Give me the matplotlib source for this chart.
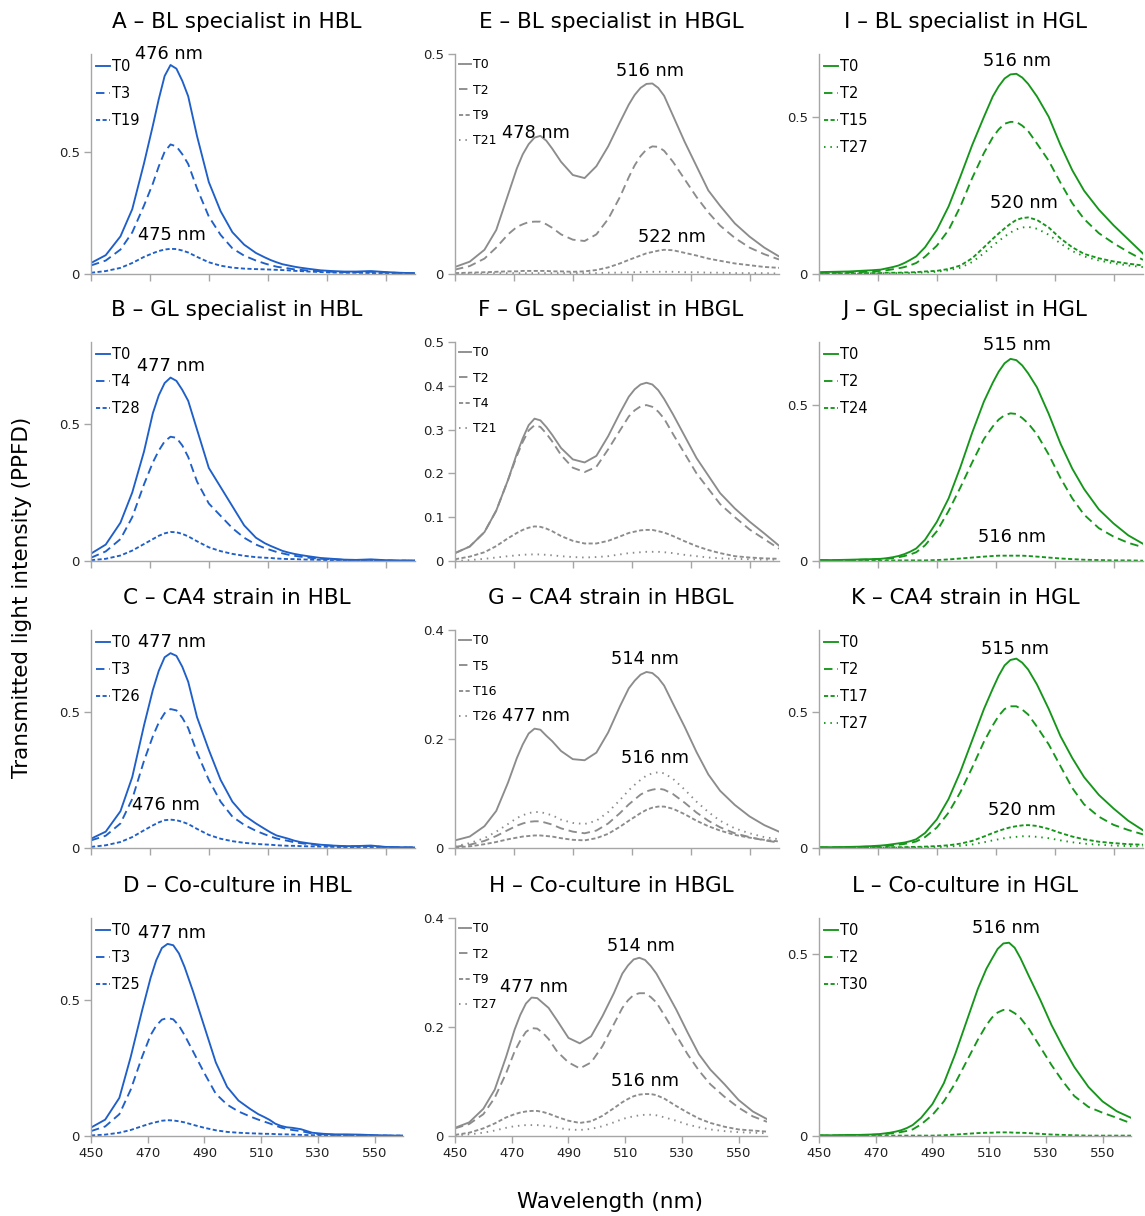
import matplotlib
matplotlib.use("Agg")
import matplotlib.pyplot as plt

# wavelength grid (nm), denser around the peaks
WL = [450, 455, 460, 464, 468, 471, 473, 475, 477, 479, 481, 483, 486, 490, 494, 498, 502,
      506, 509, 511, 513, 515, 517, 519, 521, 524, 528, 532, 536, 540, 545, 550, 555, 560]

# A - BL specialist in HBL
A_T0 = [0.045, 0.077, 0.154, 0.265, 0.453, 0.607, 0.715, 0.810, 0.855, 0.840, 0.790, 0.727, 0.564, 0.376, 0.257, 0.171, 0.120,
        0.086, 0.068, 0.057, 0.048, 0.040, 0.035, 0.030, 0.026, 0.021, 0.015, 0.012, 0.010, 0.010, 0.012, 0.008, 0.005, 0.003]
A_T3 = [0.035, 0.055, 0.100, 0.170, 0.280, 0.370, 0.440, 0.500, 0.530, 0.522, 0.490, 0.450, 0.350, 0.235, 0.160, 0.105, 0.075,
        0.055, 0.043, 0.036, 0.030, 0.026, 0.023, 0.019, 0.017, 0.014, 0.011, 0.009, 0.008, 0.008, 0.009, 0.006, 0.004, 0.003]
A_T19 = [0.005, 0.012, 0.025, 0.045, 0.070, 0.085, 0.094, 0.100, 0.103, 0.102, 0.096, 0.088, 0.070, 0.048, 0.034, 0.026, 0.022,
         0.020, 0.019, 0.018, 0.017, 0.016, 0.015, 0.013, 0.012, 0.010, 0.008, 0.006, 0.005, 0.005, 0.004, 0.003, 0.002, 0.001]

# B - GL specialist in HBL
B_T0 = [0.027, 0.060, 0.140, 0.250, 0.400, 0.540, 0.605, 0.650, 0.670, 0.658, 0.625, 0.585, 0.480, 0.340, 0.270, 0.200, 0.130,
        0.085, 0.065, 0.055, 0.046, 0.037, 0.031, 0.026, 0.022, 0.017, 0.011, 0.008, 0.005, 0.004, 0.006, 0.003, 0.002, 0.002]
B_T4 = [0.012, 0.035, 0.080, 0.160, 0.280, 0.360, 0.403, 0.437, 0.454, 0.450, 0.422, 0.380, 0.290, 0.210, 0.165, 0.120, 0.085,
        0.060, 0.047, 0.040, 0.033, 0.028, 0.023, 0.019, 0.016, 0.012, 0.008, 0.006, 0.004, 0.003, 0.004, 0.002, 0.001, 0.001]
B_T28 = [0.003, 0.008, 0.020, 0.038, 0.062, 0.080, 0.092, 0.101, 0.106, 0.105, 0.099, 0.090, 0.072, 0.050, 0.036, 0.026, 0.019,
         0.014, 0.012, 0.011, 0.009, 0.008, 0.007, 0.007, 0.006, 0.005, 0.004, 0.003, 0.002, 0.002, 0.002, 0.001, 0.001, 0.001]

# C - CA4 strain in HBL
C_T0 = [0.034, 0.060, 0.135, 0.260, 0.450, 0.580, 0.650, 0.700, 0.715, 0.705, 0.665, 0.610, 0.480, 0.360, 0.250, 0.170, 0.120,
        0.090, 0.070, 0.057, 0.046, 0.040, 0.034, 0.027, 0.022, 0.017, 0.012, 0.009, 0.007, 0.007, 0.009, 0.004, 0.003, 0.002]
C_T3 = [0.028, 0.045, 0.090, 0.180, 0.320, 0.410, 0.460, 0.495, 0.510, 0.505, 0.478, 0.440, 0.350, 0.250, 0.170, 0.115, 0.085,
        0.063, 0.050, 0.042, 0.035, 0.030, 0.026, 0.021, 0.018, 0.014, 0.010, 0.008, 0.006, 0.006, 0.007, 0.003, 0.002, 0.002]
C_T26 = [0.004, 0.010, 0.022, 0.040, 0.065, 0.083, 0.094, 0.102, 0.104, 0.102, 0.096, 0.088, 0.070, 0.048, 0.034, 0.025, 0.019,
         0.015, 0.013, 0.012, 0.010, 0.009, 0.008, 0.008, 0.007, 0.006, 0.005, 0.004, 0.003, 0.003, 0.003, 0.002, 0.001, 0.001]

# D - Co-culture in HBL
D_T0 = [0.031, 0.060, 0.140, 0.290, 0.460, 0.580, 0.645, 0.690, 0.705, 0.700, 0.670, 0.620, 0.530, 0.400, 0.270, 0.180, 0.130,
        0.100, 0.080, 0.070, 0.059, 0.045, 0.037, 0.032, 0.030, 0.025, 0.012, 0.008, 0.006, 0.006, 0.005, 0.003, 0.002, 0.001]
D_T3 = [0.018, 0.035, 0.080, 0.170, 0.290, 0.370, 0.405, 0.427, 0.433, 0.428, 0.405, 0.370, 0.310, 0.230, 0.155, 0.115, 0.090,
        0.072, 0.060, 0.053, 0.046, 0.038, 0.031, 0.026, 0.022, 0.018, 0.009, 0.006, 0.004, 0.004, 0.003, 0.002, 0.001, 0.001]
D_T25 = [0.002, 0.005, 0.012, 0.022, 0.036, 0.046, 0.051, 0.056, 0.058, 0.057, 0.054, 0.050, 0.041, 0.030, 0.021, 0.015, 0.012,
         0.010, 0.009, 0.008, 0.008, 0.007, 0.006, 0.006, 0.005, 0.004, 0.003, 0.003, 0.002, 0.002, 0.002, 0.001, 0.001, 0.001]

# E - BL specialist in HBGL
E_T0 = [0.016, 0.028, 0.055, 0.100, 0.180, 0.240, 0.272, 0.295, 0.310, 0.314, 0.303, 0.285, 0.255, 0.225, 0.218, 0.245, 0.290,
        0.345, 0.385, 0.407, 0.423, 0.432, 0.433, 0.423, 0.405, 0.360, 0.300, 0.245, 0.190, 0.155, 0.115, 0.085, 0.060, 0.040]
E_T2 = [0.010, 0.018, 0.035, 0.060, 0.090, 0.107, 0.113, 0.118, 0.119, 0.119, 0.113, 0.105, 0.090, 0.078, 0.075, 0.090, 0.125,
        0.175, 0.220, 0.247, 0.268, 0.283, 0.290, 0.289, 0.280, 0.255, 0.215, 0.175, 0.140, 0.110, 0.082, 0.060, 0.045, 0.033]
E_T9 = [0.002, 0.003, 0.004, 0.005, 0.006, 0.006, 0.007, 0.007, 0.007, 0.007, 0.007, 0.006, 0.006, 0.005, 0.006, 0.009, 0.015,
        0.024, 0.032, 0.037, 0.042, 0.047, 0.050, 0.053, 0.055, 0.054, 0.048, 0.042, 0.035, 0.030, 0.024, 0.020, 0.016, 0.014]
E_T21 = [0.001, 0.001, 0.001, 0.002, 0.002, 0.002, 0.002, 0.002, 0.002, 0.002, 0.002, 0.002, 0.002, 0.002, 0.002, 0.002, 0.003,
         0.003, 0.004, 0.004, 0.004, 0.005, 0.005, 0.005, 0.005, 0.005, 0.004, 0.004, 0.003, 0.003, 0.002, 0.002, 0.002, 0.001]

# F - GL specialist in HBGL
F_T0 = [0.018, 0.033, 0.066, 0.115, 0.185, 0.245, 0.280, 0.310, 0.325, 0.321, 0.306, 0.288, 0.258, 0.232, 0.225, 0.240, 0.285,
        0.338, 0.375, 0.392, 0.403, 0.407, 0.403, 0.390, 0.370, 0.335, 0.285, 0.235, 0.195, 0.155, 0.120, 0.090, 0.063, 0.035]
F_T2 = [0.018, 0.033, 0.066, 0.115, 0.185, 0.240, 0.272, 0.298, 0.310, 0.306, 0.291, 0.273, 0.242, 0.213, 0.203, 0.215, 0.255,
        0.298, 0.330, 0.344, 0.353, 0.356, 0.352, 0.341, 0.325, 0.290, 0.245, 0.200, 0.165, 0.130, 0.100, 0.072, 0.050, 0.028]
F_T4 = [0.004, 0.010, 0.020, 0.034, 0.052, 0.064, 0.071, 0.076, 0.079, 0.078, 0.074, 0.068, 0.057, 0.046, 0.040, 0.040, 0.046,
        0.056, 0.064, 0.067, 0.070, 0.071, 0.071, 0.068, 0.065, 0.057, 0.045, 0.034, 0.025, 0.018, 0.011, 0.008, 0.006, 0.005]
F_T21 = [0.000, 0.002, 0.005, 0.008, 0.011, 0.013, 0.014, 0.015, 0.015, 0.015, 0.014, 0.013, 0.011, 0.009, 0.008, 0.009, 0.011,
         0.015, 0.018, 0.019, 0.020, 0.021, 0.021, 0.021, 0.020, 0.018, 0.014, 0.011, 0.008, 0.006, 0.005, 0.004, 0.003, 0.003]

# G - CA4 strain in HBGL
G_T0 = [0.014, 0.021, 0.040, 0.068, 0.120, 0.165, 0.190, 0.210, 0.219, 0.217, 0.206, 0.196, 0.178, 0.163, 0.161, 0.175, 0.212,
        0.260, 0.293, 0.307, 0.318, 0.323, 0.321, 0.312, 0.298, 0.265, 0.222, 0.176, 0.135, 0.105, 0.079, 0.058, 0.042, 0.030]
G_T5 = [0.002, 0.006, 0.013, 0.022, 0.033, 0.041, 0.045, 0.048, 0.049, 0.049, 0.046, 0.043, 0.036, 0.030, 0.027, 0.032, 0.045,
        0.064, 0.080, 0.089, 0.098, 0.104, 0.107, 0.109, 0.107, 0.099, 0.083, 0.065, 0.050, 0.038, 0.027, 0.020, 0.014, 0.010]
G_T16 = [0.001, 0.003, 0.007, 0.011, 0.016, 0.019, 0.021, 0.022, 0.023, 0.023, 0.022, 0.021, 0.018, 0.015, 0.014, 0.018, 0.026,
         0.039, 0.050, 0.057, 0.064, 0.070, 0.074, 0.076, 0.076, 0.072, 0.062, 0.050, 0.040, 0.032, 0.024, 0.019, 0.015, 0.012]
G_T26 = [0.003, 0.009, 0.018, 0.030, 0.044, 0.055, 0.060, 0.064, 0.066, 0.066, 0.063, 0.060, 0.052, 0.046, 0.044, 0.050, 0.066,
         0.088, 0.106, 0.116, 0.125, 0.133, 0.137, 0.139, 0.137, 0.127, 0.107, 0.085, 0.066, 0.050, 0.036, 0.027, 0.020, 0.016]

# H - Co-culture in HBGL
H_T0 = [0.015, 0.025, 0.050, 0.085, 0.145, 0.195, 0.222, 0.243, 0.254, 0.253, 0.244, 0.235, 0.212, 0.180, 0.170, 0.183, 0.220,
        0.262, 0.298, 0.313, 0.324, 0.327, 0.323, 0.312, 0.298, 0.270, 0.232, 0.190, 0.150, 0.122, 0.095, 0.066, 0.045, 0.031]
H_T2 = [0.014, 0.022, 0.040, 0.070, 0.115, 0.155, 0.175, 0.191, 0.198, 0.197, 0.189, 0.178, 0.155, 0.135, 0.124, 0.135, 0.165,
        0.205, 0.235, 0.249, 0.259, 0.262, 0.262, 0.255, 0.245, 0.220, 0.185, 0.150, 0.120, 0.095, 0.072, 0.052, 0.036, 0.026]
H_T9 = [0.002, 0.006, 0.014, 0.023, 0.034, 0.040, 0.043, 0.045, 0.046, 0.046, 0.044, 0.041, 0.035, 0.028, 0.024, 0.027, 0.037,
        0.051, 0.062, 0.068, 0.073, 0.076, 0.077, 0.077, 0.075, 0.068, 0.055, 0.043, 0.032, 0.024, 0.017, 0.012, 0.010, 0.008]
H_T27 = [0.001, 0.003, 0.006, 0.010, 0.015, 0.018, 0.019, 0.020, 0.020, 0.020, 0.019, 0.018, 0.015, 0.012, 0.011, 0.013, 0.018,
         0.025, 0.031, 0.034, 0.036, 0.038, 0.039, 0.039, 0.038, 0.034, 0.028, 0.021, 0.016, 0.012, 0.009, 0.007, 0.006, 0.005]

# I - BL specialist in HGL
I_T0 = [0.006, 0.007, 0.008, 0.010, 0.012, 0.014, 0.018, 0.022, 0.027, 0.035, 0.045, 0.056, 0.085, 0.140, 0.215, 0.310, 0.410,
        0.500, 0.565, 0.597, 0.622, 0.635, 0.637, 0.625, 0.605, 0.565, 0.500, 0.410, 0.330, 0.265, 0.205, 0.155, 0.110, 0.065]
I_T2 = [0.003, 0.004, 0.005, 0.006, 0.008, 0.010, 0.012, 0.015, 0.018, 0.022, 0.028, 0.035, 0.055, 0.090, 0.140, 0.215, 0.305,
        0.385, 0.435, 0.460, 0.478, 0.484, 0.484, 0.472, 0.455, 0.415, 0.360, 0.290, 0.225, 0.175, 0.130, 0.098, 0.070, 0.045]
I_T15 = [0.002, 0.002, 0.002, 0.002, 0.003, 0.003, 0.004, 0.004, 0.004, 0.005, 0.005, 0.006, 0.008, 0.010, 0.016, 0.027, 0.050,
         0.085, 0.112, 0.129, 0.145, 0.160, 0.172, 0.178, 0.180, 0.172, 0.148, 0.113, 0.085, 0.064, 0.050, 0.040, 0.033, 0.027]
I_T27 = [0.001, 0.001, 0.001, 0.001, 0.002, 0.002, 0.002, 0.002, 0.003, 0.003, 0.003, 0.004, 0.005, 0.007, 0.012, 0.020, 0.038,
         0.066, 0.090, 0.105, 0.119, 0.132, 0.142, 0.148, 0.150, 0.144, 0.125, 0.097, 0.073, 0.056, 0.043, 0.034, 0.027, 0.022]

# J - GL specialist in HGL
J_T0 = [0.003, 0.003, 0.004, 0.005, 0.006, 0.007, 0.009, 0.012, 0.016, 0.022, 0.030, 0.040, 0.068, 0.125, 0.200, 0.300, 0.410,
        0.510, 0.570, 0.605, 0.632, 0.646, 0.642, 0.625, 0.600, 0.555, 0.470, 0.375, 0.295, 0.230, 0.165, 0.120, 0.082, 0.055]
J_T2 = [0.002, 0.002, 0.003, 0.004, 0.005, 0.006, 0.007, 0.009, 0.012, 0.016, 0.021, 0.028, 0.050, 0.095, 0.160, 0.235, 0.315,
        0.390, 0.430, 0.452, 0.466, 0.472, 0.470, 0.457, 0.440, 0.405, 0.340, 0.265, 0.200, 0.148, 0.105, 0.078, 0.058, 0.044]
J_T24 = [0.001, 0.001, 0.001, 0.001, 0.001, 0.001, 0.001, 0.002, 0.002, 0.002, 0.002, 0.002, 0.002, 0.003, 0.005, 0.008, 0.011,
         0.014, 0.016, 0.017, 0.017, 0.017, 0.017, 0.017, 0.016, 0.014, 0.011, 0.008, 0.006, 0.004, 0.003, 0.002, 0.002, 0.001]

# K - CA4 strain in HGL
K_T0 = [0.003, 0.003, 0.004, 0.005, 0.007, 0.009, 0.011, 0.014, 0.017, 0.020, 0.025, 0.032, 0.055, 0.105, 0.180, 0.280, 0.395,
        0.510, 0.585, 0.632, 0.670, 0.690, 0.695, 0.680, 0.655, 0.600, 0.510, 0.410, 0.330, 0.260, 0.195, 0.145, 0.100, 0.065]
K_T2 = [0.002, 0.002, 0.003, 0.004, 0.005, 0.006, 0.007, 0.010, 0.012, 0.015, 0.019, 0.024, 0.040, 0.075, 0.130, 0.205, 0.295,
        0.390, 0.450, 0.485, 0.510, 0.520, 0.520, 0.508, 0.490, 0.445, 0.380, 0.300, 0.220, 0.160, 0.115, 0.085, 0.066, 0.050]
K_T17 = [0.001, 0.001, 0.001, 0.001, 0.002, 0.002, 0.002, 0.003, 0.003, 0.003, 0.004, 0.004, 0.005, 0.007, 0.010, 0.016, 0.026,
         0.042, 0.055, 0.063, 0.070, 0.076, 0.080, 0.083, 0.084, 0.081, 0.070, 0.055, 0.042, 0.032, 0.023, 0.018, 0.014, 0.012]
K_T27 = [0.000, 0.000, 0.000, 0.000, 0.001, 0.001, 0.001, 0.001, 0.001, 0.001, 0.002, 0.002, 0.002, 0.003, 0.005, 0.008, 0.013,
         0.021, 0.028, 0.032, 0.036, 0.039, 0.041, 0.043, 0.043, 0.041, 0.036, 0.028, 0.021, 0.016, 0.012, 0.009, 0.007, 0.006]

# L - Co-culture in HGL
L_T0 = [0.002, 0.002, 0.003, 0.003, 0.004, 0.005, 0.007, 0.009, 0.012, 0.016, 0.022, 0.030, 0.050, 0.088, 0.145, 0.225, 0.315,
        0.405, 0.460, 0.488, 0.515, 0.530, 0.532, 0.518, 0.490, 0.440, 0.375, 0.305, 0.245, 0.190, 0.135, 0.095, 0.068, 0.050]
L_T2 = [0.001, 0.001, 0.002, 0.002, 0.003, 0.004, 0.005, 0.007, 0.008, 0.011, 0.014, 0.018, 0.032, 0.058, 0.095, 0.145, 0.205,
        0.265, 0.305, 0.326, 0.340, 0.347, 0.347, 0.338, 0.325, 0.295, 0.245, 0.195, 0.150, 0.110, 0.080, 0.064, 0.050, 0.035]
L_T30 = [0.001, 0.001, 0.001, 0.001, 0.001, 0.001, 0.001, 0.001, 0.001, 0.001, 0.001, 0.001, 0.001, 0.001, 0.002, 0.004, 0.006,
         0.008, 0.009, 0.009, 0.010, 0.010, 0.010, 0.009, 0.009, 0.008, 0.006, 0.004, 0.003, 0.002, 0.001, 0.001, 0.001, 0.001]

BLUE = "#1f5fc8"
GREY = "#8c8c8c"
GREEN = "#15961a"
AXIS = "#a6a6a6"

LS = {
  "solid": "-",
  "long": (0, (4.5, 2.6)),
  "short": (0, (2.2, 1.3)),
  "dot": (0, (0.8, 2.6)),
}

# title, column, row, colour, series, y max, y ticks, peak labels
PANELS = [
  ("A \u2013 BL specialist in HBL", 0, 0, BLUE, [("T0", A_T0, "solid"), ("T3", A_T3, "long"), ("T19", A_T19, "short")],
   0.9, [0, 0.5], [("476 nm", 476.5, 0.90), ("475 nm", 477.5, 0.16)]),
  ("B \u2013 GL specialist in HBL", 0, 1, BLUE, [("T0", B_T0, "solid"), ("T4", B_T4, "long"), ("T28", B_T28, "short")],
   0.8, [0, 0.5], [("477 nm", 477.0, 0.714)]),
  ("C \u2013 CA4 strain in HBL", 0, 2, BLUE, [("T0", C_T0, "solid"), ("T3", C_T3, "long"), ("T26", C_T26, "short")],
   0.8, [0, 0.5], [("477 nm", 477.5, 0.757), ("476 nm", 475.5, 0.156)]),
  ("D \u2013 Co-culture in HBL", 0, 3, BLUE, [("T0", D_T0, "solid"), ("T3", D_T3, "long"), ("T25", D_T25, "short")],
   0.8, [0, 0.5], [("477 nm", 478.6, 0.746)]),
  ("E \u2013 BL specialist in HBGL", 1, 0, GREY, [("T0", E_T0, "solid"), ("T2", E_T2, "long"), ("T9", E_T9, "short"), ("T21", E_T21, "dot")],
   0.5, [0, 0.5], [("516 nm", 516.2, 0.461), ("478 nm", 477.5, 0.32), ("522 nm", 523.7, 0.084)]),
  ("F \u2013 GL specialist in HBGL", 1, 1, GREY, [("T0", F_T0, "solid"), ("T2", F_T2, "long"), ("T4", F_T4, "short"), ("T21", F_T21, "dot")],
   0.5, [0, 0.1, 0.2, 0.3, 0.4, 0.5], []),
  ("G \u2013 CA4 strain in HBGL", 1, 2, GREY, [("T0", G_T0, "solid"), ("T5", G_T5, "long"), ("T16", G_T16, "short"), ("T26", G_T26, "dot")],
   0.4, [0, 0.2, 0.4], [("514 nm", 514.5, 0.347), ("477 nm", 477.5, 0.242), ("516 nm", 518.0, 0.165)]),
  ("H \u2013 Co-culture in HBGL", 1, 3, GREY, [("T0", H_T0, "solid"), ("T2", H_T2, "long"), ("T9", H_T9, "short"), ("T27", H_T27, "dot")],
   0.4, [0, 0.2, 0.4], [("514 nm", 515.6, 0.349), ("477 nm", 477.9, 0.273), ("516 nm", 517.0, 0.101)]),
  ("I \u2013 BL specialist in HGL", 2, 0, GREEN, [("T0", I_T0, "solid"), ("T2", I_T2, "long"), ("T15", I_T15, "short"), ("T27", I_T27, "dot")],
   0.7, [0, 0.5], [("516 nm", 517.2, 0.678), ("520 nm", 519.6, 0.225)]),
  ("J \u2013 GL specialist in HGL", 2, 1, GREEN, [("T0", J_T0, "solid"), ("T2", J_T2, "long"), ("T24", J_T24, "short")],
   0.7, [0, 0.5], [("515 nm", 517.2, 0.69), ("516 nm", 515.5, 0.077)]),
  ("K \u2013 CA4 strain in HGL", 2, 2, GREEN, [("T0", K_T0, "solid"), ("T2", K_T2, "long"), ("T17", K_T17, "short"), ("T27", K_T27, "dot")],
   0.8, [0, 0.5], [("515 nm", 516.5, 0.73), ("520 nm", 519.0, 0.141)]),
  ("L \u2013 Co-culture in HGL", 2, 3, GREEN, [("T0", L_T0, "solid"), ("T2", L_T2, "long"), ("T30", L_T30, "short")],
   0.6, [0, 0.5], [("516 nm", 515.9, 0.572)]),
]


def main():
  W, H = 1145, 1216
  fig = plt.figure(figsize=(W / 100, H / 100), dpi=100)

  col_left = [91, 455, 819]
  col_title = [237, 611, 965]
  row_top = [54, 342, 630, 918]
  row_bottom = [274, 561, 848, 1136]

  for title, col, row, color, series, ymax, yticks, notes in PANELS:
    width = 312 if row == 3 else 324
    left = col_left[col]
    ax = fig.add_axes([left / W, 1 - row_bottom[row] / H, width / W, (row_bottom[row] - row_top[row]) / H])

    for label, vals, style in series:
      ax.plot(WL, vals, color=color, lw=1.35, linestyle=LS[style], label=label, solid_joinstyle="round")

    ax.set_xlim(450, 560)
    ax.set_ylim(0, ymax)
    ax.set_xticks(range(450, 561, 20))
    ax.set_yticks(yticks)
    ax.set_yticklabels(["{:g}".format(v) for v in yticks])
    for side in ["top", "right"]:
      ax.spines[side].set_visible(False)
    for side in ["left", "bottom"]:
      ax.spines[side].set_color(AXIS)
      ax.spines[side].set_linewidth(1.0)
    ax.tick_params(axis="both", direction="out", length=5, width=1, color=AXIS, labelsize=9.5, labelcolor="#222222", pad=3)
    ax.tick_params(axis="x", labelbottom=(row == 3))

    # grey panels have a smaller, tighter legend
    if col == 1:
      leg_fs, leg_sp = 9, 0.98
    else:
      leg_fs, leg_sp = 10.5, 0.82
    ax.legend(loc="upper left", bbox_to_anchor=(0.0, 1.0), frameon=False, fontsize=leg_fs,
              handlelength=0.95, handletextpad=0.15, labelspacing=leg_sp,
              borderaxespad=0.0, borderpad=0.35)

    for text, x, y in notes:
      ax.text(x, y, text, ha="center", va="center", fontsize=12.8, clip_on=False)

    fig.text(col_title[col] / W, 1 - (row_top[row] - 32) / H, title, ha="center", va="center", fontsize=15.5)

  fig.text(22 / W, 1 - 597 / H, "Transmitted light intensity (PPFD)", rotation=90, ha="center", va="center", fontsize=15.5)
  fig.text(610 / W, 1 - 1202 / H, "Wavelength (nm)", ha="center", va="center", fontsize=15.5)

  fig.savefig("out.png", dpi=100)


if __name__ == "__main__":
  main()
